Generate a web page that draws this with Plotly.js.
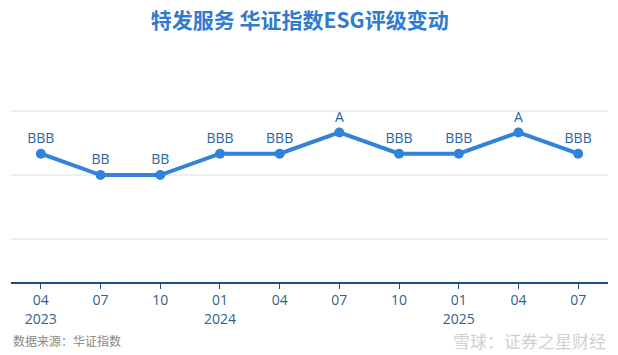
<!DOCTYPE html>
<html><head><meta charset="utf-8">
<script src="https://cdn.plot.ly/plotly-3.0.1.min.js"></script>
<style>html,body{margin:0;padding:0;background:#fff}#c{width:618px;height:355px}</style>
</head><body><div id="c"></div>
<script>
const periods = ["2023-04","2023-07","2023-10","2024-01","2024-04","2024-07","2024-10","2025-01","2025-04","2025-07"];
const tickLabels = ["04<br>2023","07","10","01<br>2024","04","07","10","01<br>2025","04","07"];
const ratings = ["BBB","BB","BB","BBB","BBB","A","BBB","BBB","A","BBB"];
const ratingScale = ["C","CCC","B","BB","BBB","A","AA","AAA"];
const levels = ratings.map(r => ratingScale.indexOf(r));

const trace = {
  x: periods, y: levels, text: ratings,
  type: "scatter", mode: "lines+markers+text",
  textposition: "top center",
  textfont: {family: "Open Sans, Noto Sans CJK SC, sans-serif", size: 14, color: "#2a64a0"},
  line: {color: "#3182dc", width: 4},
  marker: {color: "#3182dc", size: 10},
  cliponaxis: false, hoverinfo: "skip"
};
const layout = {
  width: 618, height: 355,
  margin: {l: 11, r: 10, t: 60, b: 73},
  paper_bgcolor: "#fff", plot_bgcolor: "#fff",
  showlegend: false,
  title: {text: "<b>特发服务 华证指数ESG评级变动</b>", x: 0.485, xanchor: "center", y: 0.943, yanchor: "middle",
    font: {family: "Noto Sans CJK SC, sans-serif", size: 21, color: "#2f7bd0"}},
  xaxis: {type: "category", range: [-0.5, 9.5], tickvals: periods, ticktext: tickLabels,
    showline: true, linecolor: "#1f4f7a", linewidth: 1.5, ticks: "outside", ticklen: 5, tickcolor: "#1f4f7a",
    showgrid: false, zeroline: false,
    tickfont: {family: "Open Sans, sans-serif", size: 14, color: "#2f5f8f"}},
  yaxis: {range: [-2.02, 8.4], tick0: 3, dtick: 3, showticklabels: false, ticks: "",
    showgrid: true, gridcolor: "#eeeeee", gridwidth: 1.5, zeroline: false, showline: false},
  annotations: [
    {text: "数据来源：华证指数", xref: "paper", yref: "paper", x: 0.0, xanchor: "left", y: -0.262, yanchor: "middle",
     showarrow: false, font: {family: "Noto Sans CJK SC, sans-serif", size: 12, color: "#888888"}},
    {text: "雪球：证券之星财经", xref: "paper", yref: "paper", x: 1.0, xanchor: "right", y: -0.262, yanchor: "middle",
     showarrow: false, font: {family: "Noto Sans CJK SC, sans-serif", size: 17, color: "#d0d0d0"}}
  ]
};
Plotly.newPlot("c", [trace], layout, {displayModeBar: false, staticPlot: true});
</script></body></html>
